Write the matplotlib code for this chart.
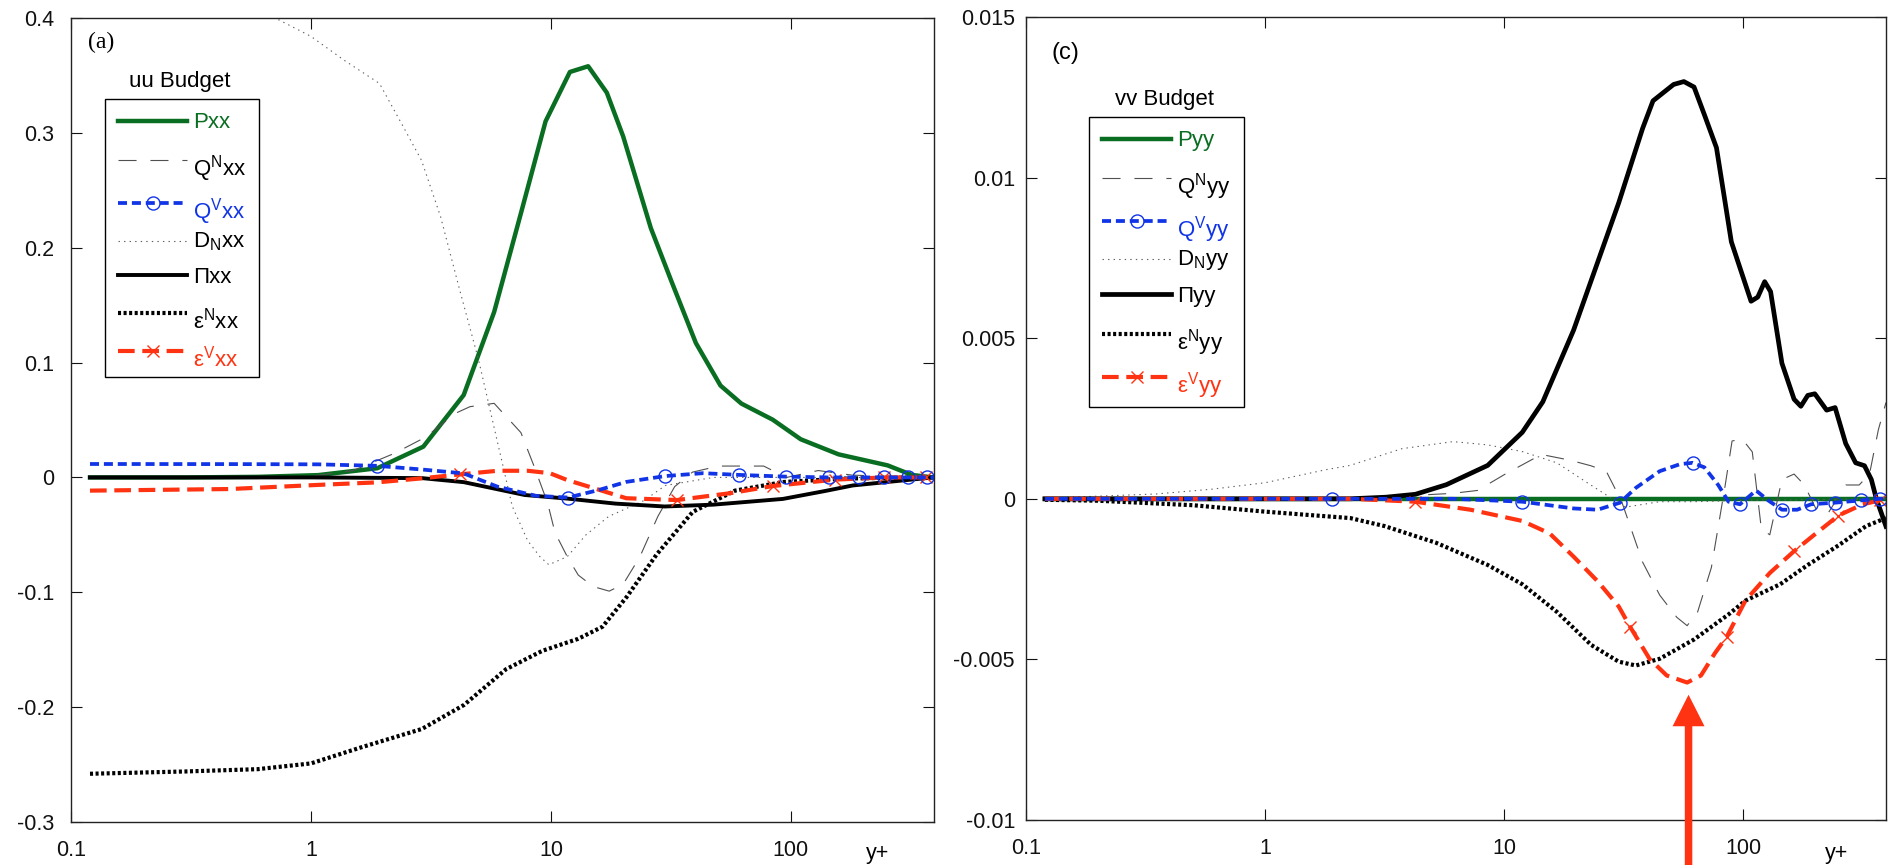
import numpy as np
import matplotlib
matplotlib.use("Agg")
import matplotlib.pyplot as plt
import matplotlib.transforms as mtransforms
from matplotlib.lines import Line2D
from matplotlib.ticker import NullLocator

# ---------------- uu budget (panel a) ----------------
p_xx_x = [0.12, 0.3, 0.6, 1.07, 1.89, 2.94, 4.33, 5.8, 7.5, 9.5, 12, 14.3, 17.1, 20,
          26.1, 31.9, 40.2, 50.9, 62.2, 84, 110, 158, 253, 319, 390]
p_xx_y = [0, 0, 0.0005, 0.002, 0.008, 0.0268, 0.0717, 0.144, 0.23, 0.31, 0.353, 0.358,
          0.335, 0.297, 0.217, 0.17, 0.117, 0.08, 0.0643, 0.0503, 0.0332, 0.0201, 0.0105,
          0.0022, 0]

qn_xx_x = [0.12, 0.5, 1.0, 1.5, 2.23, 3.0, 4.0, 4.6, 5.8, 7.5, 8.5, 9.7, 10.4, 11.7, 13,
           15, 17.5, 20, 23.5, 27.9, 32.8, 38.9, 50, 77, 96, 130, 180, 250, 395]
qn_xx_y = [0, 0, 0.001, 0.006, 0.021, 0.035, 0.0558, 0.0616, 0.0645, 0.039, 0.010,
           -0.0226, -0.048, -0.069, -0.085, -0.095, -0.099, -0.093, -0.069, -0.034,
           -0.008, 0.0046, 0.0099, 0.0099, 0, 0.006, 0.002, 0.001, 0]

qv_xx_x = [0.12, 0.5, 1.07, 1.89, 2.9, 4.33, 6.0, 8.65, 11.8, 15.8, 20.6, 30, 43, 61, 95,
           144, 192, 244, 309, 368, 395]
qv_xx_y = [0.0117, 0.0116, 0.0114, 0.0101, 0.0069, 0.0035, -0.0081, -0.016, -0.0175,
           -0.011, -0.0039, 0.0012, 0.0037, 0.0022, 0.0007, 0, 0, 0, 0, 0, 0]

dn_xx_x = [0.12, 0.3, 0.5, 0.71, 1.0, 1.38, 1.93, 2.43, 2.89, 3.47, 4.17, 5.0, 6.0, 6.9,
           8.0, 9.0, 9.8, 11.7, 14, 17.4, 24.5, 30, 47.5, 395]
dn_xx_y = [0.52, 0.49, 0.44, 0.40, 0.384, 0.363, 0.343, 0.305, 0.276, 0.227, 0.163, 0.102,
           0.03, -0.025, -0.055, -0.069, -0.076, -0.069, -0.05, -0.034, -0.02, -0.007, 0, 0]

pi_xx_x = [0.12, 1, 2.9, 4.33, 7.78, 11.8, 18.6, 29.8, 47.5, 92.7, 139, 181, 254, 393]
pi_xx_y = [0, 0, -0.0006, -0.0041, -0.0153, -0.0185, -0.0228, -0.0253, -0.0237, -0.0187,
           -0.0118, -0.007, -0.0039, 0]

en_xx_x = [0.12, 0.3, 0.6, 1.0, 1.62, 2.9, 4.35, 6.5, 9.2, 13, 16.4, 20.7, 27.6, 39, 58.5,
           93, 166, 331, 395]
en_xx_y = [-0.258, -0.256, -0.254, -0.249, -0.235, -0.219, -0.198, -0.167, -0.151, -0.1405,
           -0.130, -0.104, -0.067, -0.030, -0.0115, -0.004, -0.001, 0, 0]

ev_xx_x = [0.12, 0.46, 1.07, 1.89, 2.9, 4.2, 6.0, 7.08, 8.0, 9.9, 11.7, 14.8, 20.6, 33.5,
           56, 84, 153, 244, 366, 395]
ev_xx_y = [-0.0115, -0.0101, -0.0065, -0.0043, -0.0008, 0.0027, 0.0058, 0.0058, 0.0058,
           0.0037, -0.0023, -0.0088, -0.0181, -0.0197, -0.0137, -0.0075, -0.0019, 0, 0, 0]

# ---------------- vv budget (panel c) ----------------
p_yy_x = [0.12, 1, 10, 100, 395]
p_yy_y = [0, 0, 0, 0, 0]

qn_yy_x = [0.12, 1.0, 2.27, 6.1, 7.73, 10.1, 14.3, 18.9, 23.0, 26.7, 31.0, 37.9, 44.7,
           52.7, 58.2, 64.4, 73.5, 84, 89.7, 98.9, 109, 119, 129, 145, 163, 180, 202, 227,
           268, 305, 337, 367, 395]
qn_yy_y = [0, 0, 0, 0.00017, 0.00026, 0.00077, 0.00138, 0.0012, 0.00103, 0.00086, -0.00009,
           -0.00197, -0.003, -0.00369, -0.00395, -0.00352, -0.00214, 0.00043, 0.0018,
           0.00186, 0.00146, -0.00095, -0.00112, 0.0006, 0.00077, 0.00043, -0.00034,
           -0.00043, 0.00043, 0.00043, 0.00077, 0.00215, 0.003]

qv_yy_x = [0.12, 1.0, 1.9, 2.27, 6.1, 11.9, 19.5, 24.6, 30.5, 35.5, 44.7, 54.4, 61.3, 68.7,
           78.5, 86.7, 96.8, 113, 127, 145, 168, 192, 242, 310, 372, 395]
qv_yy_y = [0, 0, 0, 0, 0, -0.00009, -0.0003, -0.00034, -0.00012, 0.00034, 0.00086, 0.00108,
           0.00112, 0.00098, 0.00043, -0.00009, -0.00017, 0.00026, -0.00005, -0.00034,
           -0.00034, -0.00017, -0.00012, -0.00005, 0, 0]

dn_yy_x = [0.12, 0.35, 0.6, 1.0, 1.78, 2.27, 3.73, 6.1, 8.5, 11.9, 16.6, 23, 32.1, 44.7,
           62, 100, 395]
dn_yy_y = [0.00002, 0.00015, 0.0003, 0.0005, 0.0009, 0.00104, 0.00156, 0.00178, 0.00168,
           0.00147, 0.00112, 0.00043, -0.00026, -0.00009, -0.00009, -0.00005, 0]

pi_yy_x = [0.12, 1.0, 2.27, 3.2, 4.25, 5.73, 8.53, 11.9, 14.5, 19.5, 30.1, 37.9, 41.9, 51.1,
           56.4, 62.2, 68.7, 77.2, 89.1, 107.7, 114.9, 122.8, 130, 145, 163, 174, 186, 199,
           223, 242, 268, 295, 321, 343, 360, 395]
pi_yy_y = [0, 0, 0, 0.00005, 0.00014, 0.00044, 0.00104, 0.00207, 0.00302, 0.00525, 0.00921,
           0.01153, 0.01239, 0.0129, 0.01299, 0.01282, 0.01196, 0.01093, 0.0080, 0.00615,
           0.00628, 0.00676, 0.00645, 0.00422, 0.0031, 0.00288, 0.00322, 0.00327, 0.00276,
           0.00284, 0.00172, 0.00112, 0.00103, 0.0006, 0, -0.00086]

en_yy_x = [0.12, 0.2, 0.5, 1.0, 1.5, 2.27, 3.16, 5.19, 8.53, 11.9, 16.6, 23.1, 30.1, 35.5,
           44.7, 62.2, 86.7, 102, 142.6, 186, 250, 326, 395]
en_yy_y = [-0.00003, -0.00006, -0.0002, -0.0004, -0.0005, -0.0006, -0.00085, -0.00137,
           -0.00206, -0.00266, -0.00352, -0.00455, -0.00507, -0.00519, -0.00498, -0.00438,
           -0.0036, -0.00317, -0.00266, -0.00206, -0.00145, -0.00085, -0.0006]

ev_yy_x = [0.12, 1.0, 2.27, 4.25, 7.22, 11.9, 15.5, 19.5, 24.6, 30.1, 33.7, 40.5, 47.8,
           58.2, 66.5, 76, 85.3, 102, 129, 163, 205, 250, 316, 372, 395]
ev_yy_y = [0, 0, 0, -0.00009, -0.00034, -0.00069, -0.00108, -0.0018, -0.00257, -0.00335,
           -0.004, -0.00498, -0.0055, -0.00572, -0.0055, -0.00481, -0.00429, -0.00317,
           -0.00231, -0.00163, -0.00103, -0.00052, -0.00017, -0.00005, 0]

# axis ticks and labels
x_ticks = [0.1, 1, 10, 100]
x_tick_labels = ["0.1", "1", "10", "100"]
yl_ticks = [-0.3, -0.2, -0.1, 0, 0.1, 0.2, 0.3, 0.4]
yl_tick_labels = ["-0.3", "-0.2", "-0.1", "0", "0.1", "0.2", "0.3", "0.4"]
yr_ticks = [-0.01, -0.005, 0, 0.005, 0.01, 0.015]
yr_tick_labels = ["-0.01", "-0.005", "0", "0.005", "0.01", "0.015"]

# location of the peak of eps^V_yy marked by the arrow
arrow_x = 59
arrow_tip = -0.0061

# ---------------- styling ----------------
plt.rcParams["font.family"] = ["Liberation Sans", "DejaVu Sans"]
plt.rcParams["mathtext.fontset"] = "custom"
plt.rcParams["mathtext.rm"] = "Liberation Sans"
plt.rcParams["mathtext.it"] = "Liberation Sans:italic"
plt.rcParams["mathtext.bf"] = "Liberation Sans:bold"
plt.rcParams["axes.unicode_minus"] = False
plt.rcParams["lines.scale_dashes"] = False

GREEN = "#0a6e22"
BLUE = "#1034e6"
RED = "#ff3311"

STY = {
    "P": dict(color=GREEN, lw=3.2, ls="-"),
    "QN": dict(color="#505050", lw=0.8, dashes=(13, 10)),
    "QV": dict(color=BLUE, lw=2.7, dashes=(6.5, 3.5)),
    "DN": dict(color="#606060", lw=0.8, dashes=(1, 3)),
    "PI": dict(color="black", lw=2.8, ls="-"),
    "EN": dict(color="black", lw=3.0, dashes=(2.2, 1.8)),
    "EV": dict(color=RED, lw=3.0, dashes=(12, 5.5)),
}
CIRCLE = dict(marker="o", ms=9.4, mfc="none", mec=BLUE, mew=1.0, ls="none")
CROSS = dict(marker="x", ms=8.6, mec=RED, mew=1.0, ls="none")

W, H = 1890, 865
fig = plt.figure(figsize=(W / 100, H / 100), dpi=100)


def px_axes(l, t, r, b):
    return fig.add_axes([l / W, 1 - b / H, (r - l) / W, (b - t) / H])


axL = px_axes(71, 18, 934, 822)
axR = px_axes(1026, 17, 1886, 820)


def draw_budget(ax, data, circle_idx, cross_idx, pi_lw):
    (px, py), (qnx, qny), (qvx, qvy), (dnx, dny), (pix, piy), (enx, eny), (evx, evy) = data
    ax.plot(px, py, **STY["P"])
    ax.plot(qnx, qny, **STY["QN"])
    ax.plot(dnx, dny, **STY["DN"])
    ax.plot(pix, piy, **dict(STY["PI"], lw=pi_lw))
    ax.plot(enx, eny, **STY["EN"])
    ax.plot(evx, evy, **STY["EV"])
    ax.plot(np.asarray(evx)[cross_idx], np.asarray(evy)[cross_idx], **CROSS)
    ax.plot(qvx, qvy, **STY["QV"])
    ax.plot(np.asarray(qvx)[circle_idx], np.asarray(qvy)[circle_idx], **CIRCLE)


draw_budget(axL,
            [(p_xx_x, p_xx_y), (qn_xx_x, qn_xx_y), (qv_xx_x, qv_xx_y), (dn_xx_x, dn_xx_y),
             (pi_xx_x, pi_xx_y), (en_xx_x, en_xx_y), (ev_xx_x, ev_xx_y)],
            circle_idx=[3, 8, 11, 13, 14, 15, 16, 17, 18, 19],
            cross_idx=[5, 13, 15, 16, 17, 18], pi_lw=2.8)
draw_budget(axR,
            [(p_yy_x, p_yy_y), (qn_yy_x, qn_yy_y), (qv_yy_x, qv_yy_y), (dn_yy_x, dn_yy_y),
             (pi_yy_x, pi_yy_y), (en_yy_x, en_yy_y), (ev_yy_x, ev_yy_y)],
            circle_idx=[2, 5, 8, 12, 16, 19, 21, 22, 23, 24],
            cross_idx=[3, 10, 16, 19, 21, 23], pi_lw=3.4)

for ax, yt, ytl, ylim, ypad in ((axL, yl_ticks, yl_tick_labels, (-0.3, 0.4), 12),
                                (axR, yr_ticks, yr_tick_labels, (-0.01, 0.015), 8)):
    ax.set_xscale("log")
    ax.set_xlim(0.1, 395)
    ax.set_ylim(*ylim)
    ax.set_xticks(x_ticks)
    ax.set_xticklabels(x_tick_labels)
    ax.xaxis.set_minor_locator(NullLocator())
    ax.set_yticks(yt)
    ax.set_yticklabels(ytl)
    ax.tick_params(direction="in", top=True, right=True, length=7.9, width=0.8,
                   labelsize=15.5, colors="#111111")
    ax.tick_params(axis="x", pad=13)
    ax.tick_params(axis="y", pad=ypad)
    for s in ax.spines.values():
        s.set_linewidth(1.0)
        s.set_color("#222222")


def legend_handles(pi_lw):
    return [
        Line2D([], [], **STY["P"]),
        Line2D([], [], **STY["QN"]),
        Line2D([], [], **STY["QV"], marker="o", ms=9.4, mfc="none", mec=BLUE, mew=1.0),
        Line2D([], [], **STY["DN"]),
        Line2D([], [], **dict(STY["PI"], lw=pi_lw)),
        Line2D([], [], **STY["EN"]),
        Line2D([], [], **STY["EV"], marker="x", ms=8.6, mec=RED, mew=1.0),
    ]


label_colors = [GREEN, "black", BLUE, "black", "black", "black", RED]
# labels carrying a superscript sit a little lower next to their line
label_drop_pt = [0, 5.5, 5.5, -1.0, 0, 5.5, 5.5]


def add_legend(ax, comp, left, top, pi_lw):
    labels = ["P" + comp,
              "Q$^{\\mathrm{N}}$" + comp,
              "Q$^{\\mathrm{V}}$" + comp,
              "D$_{\\mathrm{N}}$" + comp,
              "\u03a0" + comp,
              "\u03b5$^{\\mathrm{N}}$" + comp,
              "\u03b5$^{\\mathrm{V}}$" + comp]
    leg = ax.legend(legend_handles(pi_lw), labels, loc="upper left",
                    bbox_to_anchor=(left / W, 1 - top / H), bbox_transform=fig.transFigure,
                    frameon=True, fancybox=False, edgecolor="black", framealpha=1,
                    fontsize=16, handlelength=3.1, handletextpad=0.25, borderpad=0.6,
                    labelspacing=0.55, borderaxespad=0, numpoints=1)
    leg.get_frame().set_linewidth(1.0)
    for t, c, d in zip(leg.get_texts(), label_colors, label_drop_pt):
        t.set_color(c)
        if d:
            t.set_transform(t.get_transform() +
                            mtransforms.ScaledTranslation(0, -d / 72, fig.dpi_scale_trans))
    return leg


add_legend(axL, "xx", 105, 99, 2.8)
add_legend(axR, "yy", 1089, 117, 3.4)

fig.text(180 / W, 1 - 82 / H, "uu Budget", ha="center", va="center", fontsize=16)
fig.text(1165 / W, 1 - 100 / H, "vv Budget", ha="center", va="center", fontsize=16)

fig.text(88 / W, 1 - 42 / H, "(a)", ha="left", va="center", fontsize=17,
         family="Liberation Serif")
fig.text(1052 / W, 1 - 53 / H, "(c)", ha="left", va="center", fontsize=17)

fig.text(878 / W, 1 - 853 / H, "y+", ha="center", va="center", fontsize=15.5)
fig.text(1837 / W, 1 - 853 / H, "y+", ha="center", va="center", fontsize=15.5)

# arrow from below the plot pointing at the minimum of eps^V_yy
axR.annotate("", xy=(arrow_x, arrow_tip), xycoords="data",
             xytext=(arrow_x, -10), textcoords=("data", "figure pixels"),
             annotation_clip=False,
             arrowprops=dict(arrowstyle="simple,head_length=22.7,head_width=23,tail_width=5.4",
                             mutation_scale=1, fc=RED, ec="none", lw=0,
                             shrinkA=0, shrinkB=0))

fig.savefig("out.png", dpi=100)
